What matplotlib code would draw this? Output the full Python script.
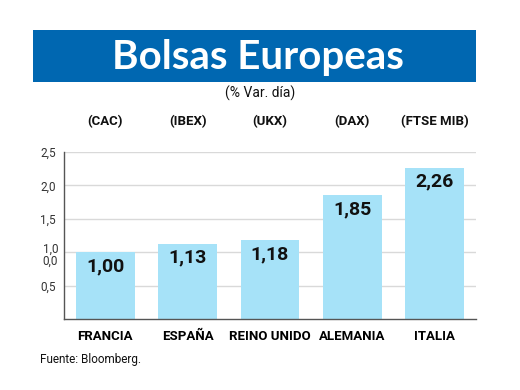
import matplotlib
matplotlib.use("Agg")
import matplotlib.pyplot as plt
from matplotlib.patches import Rectangle
import matplotlib.transforms as mtransforms

countries = ["FRANCIA", "ESPAÑA", "REINO UNIDO", "ALEMANIA", "ITALIA"]
indices = ["(CAC)", "(IBEX)", "(UKX)", "(DAX)", "(FTSE MIB)"]
values = [1.00, 1.13, 1.18, 1.85, 2.26]
ytick_vals = [0.5, 1.5, 2.0, 2.5]
ytick_labels = ["0,5", "1,5", "2,0", "2,5"]
grid_vals = [0.5, 1.0, 1.5, 2.0, 2.5]

COND = ["Roboto", "DejaVu Sans"]
TITLE_F = ["Lato", "DejaVu Sans"]

W, H = 520, 390
fig = plt.figure(figsize=(W / 100, H / 100), dpi=100)
fig.patch.set_facecolor("white")

# Title banner
fig.patches.append(Rectangle((33 / W, 1 - 82 / H), (476 - 33) / W, (82 - 30) / H,
                             transform=fig.transFigure, facecolor="#0067b1",
                             edgecolor="none", zorder=0))
fig.text(258 / W, 1 - 57 / H, "Bolsas Europeas", color="white", fontsize=29,
         fontweight="bold", family=TITLE_F, ha="center", va="center")
fig.text(260 / W, 1 - 93 / H, "(% Var. día)", fontsize=10, family=COND,
         ha="center", va="center", color="#111111")

ax = fig.add_axes([64 / W, 1 - 319 / H, (476 - 64) / W, (319 - 152) / H])
x = list(range(len(values)))
ax.bar(x, values, width=0.716, color="#a6e2f8", edgecolor="none", zorder=2)
ax.set_xlim(-0.5, 4.5)
ax.set_ylim(0, 2.5)
for g in grid_vals:
    ax.axhline(g, color="#d9d9d9", linewidth=1, zorder=0)
ax.set_yticks(ytick_vals)
ax.set_yticklabels(ytick_labels, family=COND, fontsize=8.5, color="#333333")
ax.tick_params(axis="y", length=0, pad=6)
ax.set_xticks(x)
ax.set_xticklabels(countries, family=COND, fontsize=9.5, fontweight="bold")
ax.tick_params(axis="x", length=0, pad=8)
for s in ["top", "right"]:
    ax.spines[s].set_visible(False)
for s in ["left", "bottom"]:
    ax.spines[s].set_color("#555555")
    ax.spines[s].set_linewidth(1.0)

# "1,0" and the stray "0,0" label stacked just around the 1.0 gridline
trans_y = mtransforms.blended_transform_factory(ax.transAxes, ax.transData)
ax.text(-6 / (476 - 64), 1.05, "1,0", transform=trans_y, ha="right", va="center",
        family=COND, fontsize=8.5, color="#333333")
ax.text(-6 / (476 - 64), 0.87, "0,0", transform=trans_y, ha="right", va="center",
        family=COND, fontsize=8.5, color="#333333")

for xi, v in zip(x, values):
    ax.annotate(f"{v:.2f}".replace(".", ","), (xi, v), xytext=(0, -10),
                textcoords="offset points", ha="center", va="center",
                fontsize=14, fontweight="bold", family=COND, color="#111111", zorder=3)

trans_xf = mtransforms.blended_transform_factory(ax.transData, fig.transFigure)
for xi, lab in zip(x, indices):
    ax.text(xi, 1 - 122 / H, lab, transform=trans_xf, ha="center", va="center",
            fontsize=9.5, fontweight="bold", family=COND, color="#111111")

fig.text(40 / W, 1 - 359 / H, "Fuente: Bloomberg.", fontsize=8.5, family=COND,
         ha="left", va="center", color="#111111")

fig.savefig("out.png", dpi=100)
